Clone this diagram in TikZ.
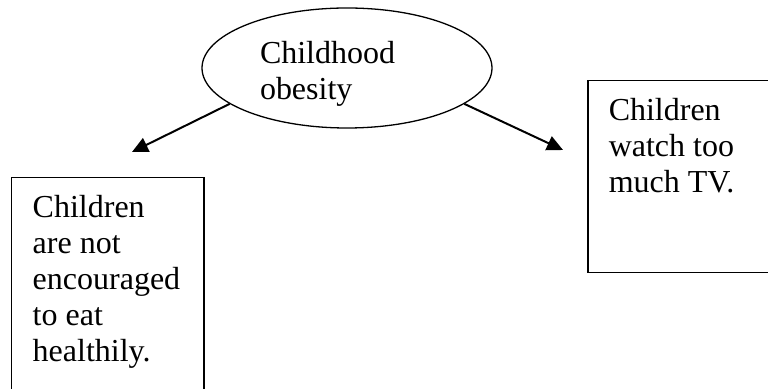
\documentclass[tikz,border=0pt]{standalone}
\usepackage{fontspec}
\setmainfont{Liberation Serif}
\usetikzlibrary{arrows.meta,shapes.geometric}
\begin{document}
\begin{tikzpicture}[x=0.5pt,y=-0.5pt,
  font=\fontsize{16}{18}\selectfont,
  bubble/.style={ellipse,draw,line width=0.65pt,minimum width=145pt,minimum height=60pt,
    inner sep=0pt,text width=87pt,align=left},
  card/.style={rectangle,draw,line width=0.75pt,anchor=north west,inner xsep=10.5pt,inner ysep=9pt},
  link/.style={line width=1pt,-{Triangle[length=8pt,width=7.5pt]}}]
\clip (0,0) rectangle (768,389);
\node[bubble] (obesity) at (347,68) {\rule{0pt}{16.5pt}Childhood\\obesity};
\node[card] (eating) at (11,177) {\parbox[t][112pt][t]{75pt}{\raggedright
  Children\\are not\\encouraged\\to eat\\healthily.}};
\node[card] (tv) at (587,80) {\parbox[t][78pt][t]{89pt}{\raggedright
  Children\\watch too\\much TV.}};
\coordinate (lefttip) at (132,152);
\coordinate (righttip) at (563,150);
\draw[link] (obesity.197) -- (lefttip);
\draw[link] (obesity.343.7) -- (righttip);
\end{tikzpicture}
\end{document}
